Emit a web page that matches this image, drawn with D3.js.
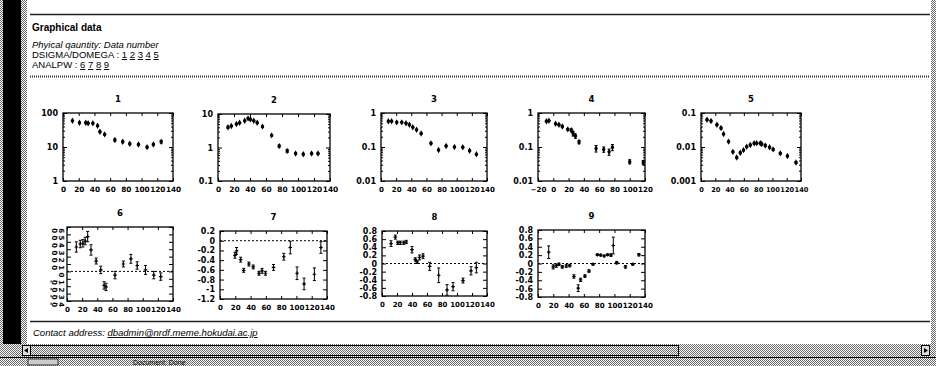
<!DOCTYPE html>
<html>
<head>
<meta charset="utf-8">
<script src="https://cdn.jsdelivr.net/npm/d3@7"></script>
<style>
  html, body { margin: 0; padding: 0; background: #fff; }
  svg { display: block; font-family: "Liberation Sans", Arial, sans-serif; }
  .tick text { font-family: "DejaVu Sans", sans-serif; font-weight: bold; font-size: 8px; fill: #000; }
</style>
</head>
<body>
<div id="chart"></div>
<script>
// tick labels
const xTicks = [0, 20, 40, 60, 80, 100, 120, 140];
const xTicks4 = [-20, 0, 20, 40, 60, 80, 100, 120];
const yTicks1 = [1, 10, 100];
const yTicks2 = [0.1, 1, 10];
const yTicks3 = [0.01, 0.1, 1];
const yTicks5 = [0.001, 0.01, 0.1];
const yTicks6 = [-0.4, -0.3, -0.2, -0.1, 0, 0.1, 0.2, 0.3, 0.4, 0.5, 0.6];
const yTicks7 = [-1.2, -1, -0.8, -0.6, -0.4, -0.2, 0, 0.2];
const yTicks8 = [-0.8, -0.6, -0.4, -0.2, 0, 0.2, 0.4, 0.6, 0.8];

// DSIGMA/DOMEGA
const x1 = [12, 21, 29, 32, 38, 44, 47, 53, 66, 76, 85, 96, 107, 115, 125];
const y1 = [59, 52, 52, 50, 50, 42, 28, 23.5, 16, 14.3, 12.4, 11.9, 9.9, 11.9, 14.3];
const e1 = [2, 2, 2, 2, 2, 2, 1.5, 1.2, 1.2, 1, 0.8, 0.7, 0.6, 0.8, 1.2];

const x2 = [12.5, 16.7, 23, 27, 33.4, 37.6, 40.5, 44.7, 49, 55.6, 67, 76.5, 86.5, 97, 106.6, 117, 125];
const y2 = [4.0, 4.4, 5.0, 5.5, 6.3, 7.4, 6.9, 6.3, 5.5, 4.2, 2.3, 1.1, 0.79, 0.66, 0.63, 0.66, 0.66];
const e2 = [0.3, 0.2, 0.2, 0.2, 0.2, 0.3, 0.3, 0.2, 0.2, 0.2, 0.12, 0.08, 0.08, 0.04, 0.04, 0.03, 0.03];

const x3 = [9.7, 14, 20.8, 27.4, 33, 37.5, 42, 47, 53, 66, 76, 86, 97, 108, 117, 126];
const y3 = [0.57, 0.57, 0.53, 0.53, 0.5, 0.45, 0.38, 0.32, 0.25, 0.128, 0.082, 0.107, 0.1, 0.098, 0.078, 0.061];
const e3 = [0.02, 0.02, 0.02, 0.02, 0.02, 0.02, 0.015, 0.013, 0.01, 0.006, 0.004, 0.005, 0.004, 0.004, 0.004, 0.003];

const x4 = [-9, -5.7, 3, 7.4, 11.8, 19, 23.6, 26, 29, 33.7, 56, 66, 73, 77.4, 100, 117.7];
const y4 = [0.57, 0.59, 0.48, 0.45, 0.4, 0.33, 0.31, 0.25, 0.21, 0.14, 0.091, 0.085, 0.072, 0.098, 0.037, 0.035];
const e4 = [0.02, 0.02, 0.02, 0.02, 0.02, 0.02, 0.03, 0.04, 0.03, 0.015, 0.02, 0.015, 0.015, 0.02, 0.005, 0.005];

const x5 = [8.4, 14, 22.3, 28, 31.6, 38.6, 44.7, 50, 55, 59.5, 64, 69, 74.4, 78, 83, 85, 90, 96, 101, 111, 121, 133];
const y5 = [0.063, 0.058, 0.045, 0.036, 0.024, 0.0144, 0.0072, 0.0049, 0.0068, 0.0081, 0.0102, 0.0115, 0.0129, 0.013, 0.0129, 0.0123, 0.011, 0.0098, 0.0085, 0.0065, 0.0054, 0.0035];
const e5 = [0.003, 0.003, 0.002, 0.002, 0.001, 0.0008, 0.0004, 0.0003, 0.0004, 0.0004, 0.0005, 0.0006, 0.0006, 0.0006, 0.0006, 0.0006, 0.0006, 0.0005, 0.0005, 0.0004, 0.0003, 0.0002];

// ANALPW
const x6 = [12.3, 17.5, 21, 24, 27.3, 31.7, 38.5, 44.6, 49, 51.6, 63.4, 74.4, 84.4, 92.7, 103.7, 114.6, 123.8];
const y6 = [0.33, 0.37, 0.38, 0.41, 0.47, 0.29, 0.14, 0.02, -0.19, -0.21, -0.05, 0.1, 0.17, 0.08, 0.02, -0.05, -0.07];
const e6 = [0.07, 0.05, 0.05, 0.05, 0.07, 0.07, 0.04, 0.05, 0.05, 0.05, 0.05, 0.04, 0.06, 0.05, 0.06, 0.05, 0.05];

const x7 = [19.6, 21.7, 27, 31, 37.8, 43.5, 51, 55, 59.5, 70, 83.5, 92, 100.8, 110, 123.5, 132];
const y7 = [-0.3, -0.21, -0.39, -0.61, -0.48, -0.54, -0.67, -0.62, -0.67, -0.55, -0.33, -0.14, -0.67, -0.89, -0.69, -0.14];
const e7 = [0.06, 0.07, 0.05, 0.04, 0.04, 0.04, 0.04, 0.05, 0.04, 0.06, 0.07, 0.13, 0.13, 0.12, 0.13, 0.12];

const x8 = [12, 17.8, 21, 24.4, 29, 32.4, 40, 44.4, 46.7, 50, 54.7, 63.6, 75.6, 86.7, 94.7, 108, 118.7, 125.8];
const y8 = [0.49, 0.65, 0.51, 0.51, 0.51, 0.53, 0.34, 0.1, 0.04, 0.15, 0.18, -0.07, -0.29, -0.65, -0.57, -0.42, -0.18, -0.1];
const e8 = [0.07, 0.05, 0.04, 0.04, 0.04, 0.04, 0.08, 0.04, 0.04, 0.06, 0.06, 0.1, 0.18, 0.13, 0.1, 0.06, 0.1, 0.13];

const x9 = [14, 19.9, 23.9, 27.4, 31.8, 37, 41.5, 47, 52.6, 55.7, 61.4, 66.7, 72, 77.7, 82, 86.6, 91, 95.4, 98.5, 103, 114.4, 124, 132];
const y9 = [0.27, -0.08, -0.05, -0.02, -0.08, -0.06, -0.05, -0.31, -0.59, -0.39, -0.3, -0.18, -0.02, 0.21, 0.2, 0.18, 0.21, 0.2, 0.43, 0.02, -0.08, -0.02, 0.21];
const e9 = [0.15, 0.05, 0.04, 0.03, 0.03, 0.03, 0.03, 0.04, 0.08, 0.04, 0.03, 0.03, 0.02, 0.02, 0.02, 0.02, 0.02, 0.03, 0.2, 0.03, 0.03, 0.02, 0.03];

// panel layout
const panels = [
  { title: '1', xs: x1, ys: y1, es: e1, log: true, yDom: [1, 100], yT: yTicks1, xDom: [0, 140], xT: xTicks, box: [63, 173, 113, 181] },
  { title: '2', xs: x2, ys: y2, es: e2, log: true, yDom: [0.1, 10], yT: yTicks2, xDom: [0, 140], xT: xTicks, box: [218, 330, 114, 181] },
  { title: '3', xs: x3, ys: y3, es: e3, log: true, yDom: [0.01, 1], yT: yTicks3, xDom: [0, 140], xT: xTicks, box: [381, 487, 113, 181] },
  { title: '4', xs: x4, ys: y4, es: e4, log: true, yDom: [0.01, 1], yT: yTicks3, xDom: [-20, 120], xT: xTicks4, box: [538, 645, 113, 181] },
  { title: '5', xs: x5, ys: y5, es: e5, log: true, yDom: [0.001, 0.1], yT: yTicks5, xDom: [0, 140], xT: xTicks, box: [701, 801, 113, 181] },
  { title: '6', xs: x6, ys: y6, es: e6, log: false, yDom: [-0.4, 0.6], yT: yTicks6, xDom: [0, 140], xT: xTicks, box: [67, 173, 227, 301], squash: true },
  { title: '7', xs: x7, ys: y7, es: e7, log: false, yDom: [-1.2, 0.2], yT: yTicks7, xDom: [0, 140], xT: xTicks, box: [220, 327, 231, 299] },
  { title: '8', xs: x8, ys: y8, es: e8, log: false, yDom: [-0.8, 0.8], yT: yTicks8, xDom: [0, 140], xT: xTicks, box: [382, 487, 231, 296] },
  { title: '9', xs: x9, ys: y9, es: e9, log: false, yDom: [-0.8, 0.8], yT: yTicks8, xDom: [0, 140], xT: xTicks, box: [538, 645, 230, 297] }
];

const W = 936, H = 366;
const svg = d3.select('#chart').append('svg').attr('width', W).attr('height', H);

// dithered grey like the old browser frame
const pat = svg.append('defs').append('pattern')
  .attr('id', 'dith').attr('width', 2).attr('height', 2).attr('patternUnits', 'userSpaceOnUse');
pat.append('rect').attr('width', 2).attr('height', 2).attr('fill', '#fff');
pat.append('rect').attr('width', 1).attr('height', 1).attr('fill', '#6a6a6a');
pat.append('rect').attr('x', 1).attr('y', 1).attr('width', 1).attr('height', 1).attr('fill', '#6a6a6a');

// window chrome
svg.append('rect').attr('x', 0).attr('y', 0).attr('width', 3).attr('height', 344).attr('fill', 'url(#dith)');
svg.append('rect').attr('x', 3).attr('y', 0).attr('width', 18).attr('height', 344).attr('fill', '#000');
svg.append('rect').attr('x', 21).attr('y', 0).attr('width', 6).attr('height', 344).attr('fill', 'url(#dith)');
svg.append('rect').attr('x', 931).attr('y', 0).attr('width', 5).attr('height', 344).attr('fill', 'url(#dith)');

// scrollbar
svg.append('rect').attr('x', 0).attr('y', 344).attr('width', W).attr('height', 13).attr('fill', 'url(#dith)');
svg.append('rect').attr('x', 30.5).attr('y', 345.5).attr('width', 648).attr('height', 10)
  .attr('fill', 'url(#dith)').attr('stroke', '#000').attr('stroke-width', 1);
svg.append('rect').attr('x', 22.5).attr('y', 345.5).attr('width', 8).attr('height', 10).attr('fill', '#ddd').attr('stroke', '#000');
svg.append('rect').attr('x', 921.5).attr('y', 345.5).attr('width', 8).attr('height', 10).attr('fill', '#ddd').attr('stroke', '#000');
svg.append('path').attr('d', 'M28,348 L24,350.5 L28,353 Z').attr('fill', '#000');
svg.append('path').attr('d', 'M924,348 L928,350.5 L924,353 Z').attr('fill', '#000');

// status bar
svg.append('rect').attr('x', 0).attr('y', 357).attr('width', W).attr('height', 9).attr('fill', 'url(#dith)');
svg.append('line').attr('x1', 0).attr('x2', W).attr('y1', 357.5).attr('y2', 357.5).attr('stroke', '#000');
svg.append('text').attr('x', 133).attr('y', 364.5).attr('font-size', 7).attr('fill', '#000').text('Document: Done');
svg.append('rect').attr('x', 28).attr('y', 359).attr('width', 30).attr('height', 6).attr('fill', '#ccc').attr('stroke', '#333');

// header
svg.append('line').attr('x1', 30).attr('x2', 930).attr('y1', 14.5).attr('y2', 14.5)
  .attr('stroke', '#222').attr('stroke-width', 1.5);
svg.append('text').attr('x', 32).attr('y', 31).attr('font-size', 10).attr('font-weight', 'bold').text('Graphical data');
svg.append('text').attr('x', 32).attr('y', 48).attr('font-size', 9.5).attr('font-style', 'italic').text('Phyical qauntity: Data number');

function linkLine(label, nums, yPos) {
  const t = svg.append('text').attr('x', 32).attr('y', yPos).attr('font-size', 9.5).style('white-space', 'pre');
  t.append('tspan').text(label + ' : ');
  nums.forEach((n, i) => {
    t.append('tspan').text(n).style('text-decoration', 'underline');
    if (i < nums.length - 1) t.append('tspan').text(' ');
  });
}
linkLine('DSIGMA/DOMEGA', ['1', '2', '3', '4', '5'], 58);
linkLine('ANALPW', ['6', '7', '8', '9'], 68);

svg.append('line').attr('x1', 30).attr('x2', 930).attr('y1', 76.5).attr('y2', 76.5)
  .attr('stroke', '#333').attr('stroke-width', 2).attr('stroke-dasharray', '1,1');

// footer
svg.append('line').attr('x1', 30).attr('x2', 930).attr('y1', 321.5).attr('y2', 321.5)
  .attr('stroke', '#222').attr('stroke-width', 1.5);
const contact = svg.append('text').attr('x', 33).attr('y', 336).attr('font-size', 9.5)
  .attr('font-style', 'italic').style('white-space', 'pre');
contact.append('tspan').text('Contact address: ');
contact.append('tspan').text('dbadmin@nrdf.meme.hokudai.ac.jp').style('text-decoration', 'underline');

const fmtLog = d => String(d);
const fmtLin = d => String(Math.round(d * 10) / 10);

function drawPanel(p) {
  const [L, R, T, B] = p.box;
  const g = svg.append('g');
  const x = d3.scaleLinear().domain(p.xDom).range([L, R]);
  const y = (p.log ? d3.scaleLog() : d3.scaleLinear()).domain(p.yDom).range([B, T]);

  g.append('text').attr('x', (L + R) / 2).attr('y', T - 11)
    .attr('text-anchor', 'middle').attr('font-size', 8.5).attr('font-weight', 'bold')
    .attr('font-family', 'DejaVu Sans').text(p.title);

  // zero line for analysing power
  if (!p.log) {
    g.append('line').attr('x1', L).attr('x2', R).attr('y1', y(0)).attr('y2', y(0))
      .attr('stroke', '#000').attr('stroke-width', 1).attr('stroke-dasharray', '2,2');
  }

  // axes with inward ticks, mirrored on top/right
  const bx = g.append('g').attr('transform', `translate(0,${B})`)
    .call(d3.axisBottom(x).tickValues(p.xT).tickSize(-3).tickPadding(6).tickFormat(d3.format('d')));
  // the three-digit labels sit tight, shrink them to the tick spacing
  const step = Math.abs(x(p.xT[1]) - x(p.xT[0]));
  bx.selectAll('.tick text').style('font-size', Math.min(8, step / 2.15) + 'px');
  g.append('g').attr('transform', `translate(0,${T})`)
    .call(d3.axisTop(x).tickValues(p.xT).tickSize(-3).tickFormat(''));
  const ly = g.append('g').attr('transform', `translate(${L},0)`)
    .call(d3.axisLeft(y).tickValues(p.yT).tickSize(-4).tickPadding(5).tickFormat(p.log ? fmtLog : fmtLin));
  g.append('g').attr('transform', `translate(${R},0)`)
    .call(d3.axisRight(y).tickValues(p.yT).tickSize(-4).tickFormat(''));

  if (p.log) {
    const minor = y.ticks().filter(v => !p.yT.includes(v));
    g.append('g').attr('transform', `translate(${L},0)`)
      .call(d3.axisLeft(y).tickValues(minor).tickSize(-2).tickFormat(''));
    g.append('g').attr('transform', `translate(${R},0)`)
      .call(d3.axisRight(y).tickValues(minor).tickSize(-2).tickFormat(''));
  }

  g.selectAll('.domain').remove();
  g.selectAll('.tick line').attr('stroke', '#000');

  if (p.squash) {
    // crowded labels, glyphs turned sideways as in the original
    ly.selectAll('.tick text').style('font-size', '7px').attr('rotate', 90).attr('x', -3).attr('dy', '0.1em');
  }

  g.append('rect').attr('x', L).attr('y', T).attr('width', R - L).attr('height', B - T)
    .attr('fill', 'none').attr('stroke', '#000').attr('stroke-width', 1.3);

  const pts = p.xs.map((v, i) => ({ x: v, y: p.ys[i], e: p.es[i] }));
  const lo = d => y(Math.max(p.yDom[0], d.y - d.e));
  const hi = d => y(Math.min(p.yDom[1], d.y + d.e));

  const mk = g.selectAll('g.pt').data(pts).enter().append('g').attr('class', 'pt');
  mk.append('line').attr('x1', d => x(d.x)).attr('x2', d => x(d.x))
    .attr('y1', lo).attr('y2', hi).attr('stroke', '#000').attr('stroke-width', 1);
  mk.append('line').attr('x1', d => x(d.x) - 1.5).attr('x2', d => x(d.x) + 1.5)
    .attr('y1', lo).attr('y2', lo).attr('stroke', '#000');
  mk.append('line').attr('x1', d => x(d.x) - 1.5).attr('x2', d => x(d.x) + 1.5)
    .attr('y1', hi).attr('y2', hi).attr('stroke', '#000');
  mk.append('path')
    .attr('d', d3.symbol().type(p.log ? d3.symbolDiamond : d3.symbolCross).size(p.log ? 12 : 7))
    .attr('transform', d => `translate(${x(d.x)},${y(d.y)})`)
    .attr('fill', '#000');
}

panels.forEach(drawPanel);
</script>
</body>
</html>
